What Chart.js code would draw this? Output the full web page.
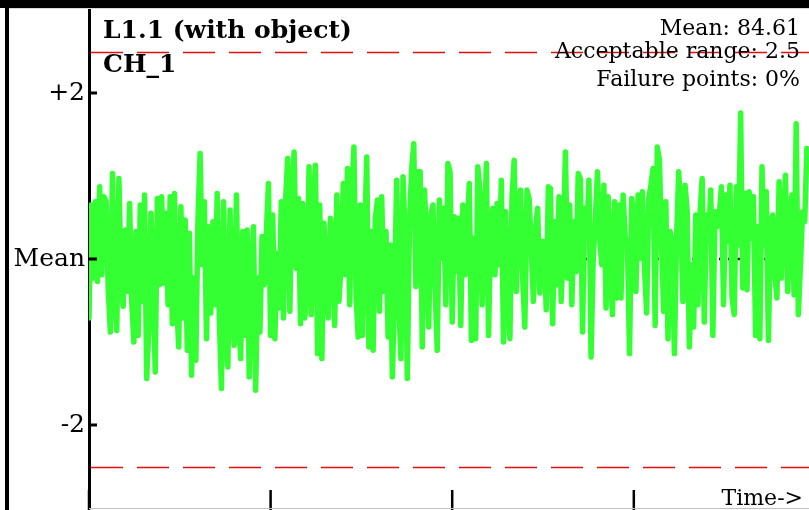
<!DOCTYPE html>
<html>
<head>
<meta charset="utf-8">
<script src="https://cdn.jsdelivr.net/npm/chart.js@4/dist/chart.umd.min.js"></script>
<style>
	html, body { margin: 0; padding: 0; background: #fff; overflow: hidden; }
	canvas { display: block; }
</style>
</head>
<body>
<canvas id="chartCanvas" width="809" height="510"></canvas>
<script>
// Values, in units of deviation from the mean
var values = [
	-0.71, 0.65, -0.23, 0.69, -0.27, 0.87, -0.19, 0.75, 0.69, -0.37,
	-0.88, 1.03, -0.35, -0.86, 0.97, -0.19, -0.57, 0.35, -0.39, 0.67,
	-0.51, -1.00, 0.33, -0.92, 0.65, -0.51, 0.77, -1.44, -0.84, 0.55,
	-0.23, -1.36, 0.73, -0.31, 0.75, -0.29, 0.55, -0.55, 0.75, -0.78,
	0.79, -0.51, -1.06, 0.63, -0.71, 0.47, -1.10, 0.31, -1.40, -0.23,
	-1.22, 0.47, 1.27, -0.07, 0.69, -0.96, 0.39, -0.65, 0.45, -0.55,

	0.79, -0.71, -1.56, 0.69, -0.96, -1.30, 0.59, -0.55, -1.04, 0.77,
	-0.63, -1.20, 0.33, -0.92, 0.35, -1.42, -0.23, 0.39, -1.58, -0.23,
	-0.88, 0.27, -0.31, 0.31, 0.91, -0.92, 0.53, -0.96, 0.07, -0.59,
	0.69, -0.71, 0.71, 1.21, -0.63, 0.77, 1.29, -0.11, 0.73, -0.78,
	0.67, -0.71, -0.37, 1.11, -0.67, 0.69, 1.13, -1.14, 0.65, -1.20,
	0.43, -0.23, -0.71, 0.49, 0.27, -0.80, 0.77, -0.51, -0.07, 0.91,
	-0.19, 1.09, -0.55, 0.79, 1.35, -0.45, -0.94, 0.65,

	-0.92, 0.25, 1.23, -1.06, 0.33, -1.10, 0.49, 0.71, -0.63,
	0.75, -0.39, 0.33, -0.94, 0.17, -1.42, -0.39, 0.95, -0.55, -1.20,
	0.99, 0.25, -1.44, 0.41, 1.07, 1.39, -0.33, 1.05, 1.05, -1.06,
	0.83, 0.27, -0.82, 0.53, 0.65, -0.35, -1.10, 0.71, 0.01, 0.61,
	-0.55, 1.15, 1.05, -0.76, 0.51, -0.15, 0.49, -0.80, 0.65, -0.19,
	0.33, 0.91, -0.98, 0.25, -0.96, 1.11, 0.81, -0.55, 0.25, 1.15,
	-0.92, 0.31, 0.61, -0.19, 0.67, -0.07, 0.95, -1.00, 0.57,

	-0.55, -0.96, 0.75, 1.19, -0.39, 0.69, 0.83, -0.23, -0.82,
	0.83, 0.73, 0.13, -0.51, 0.37, 0.61, -0.41, 0.21, 0.21, -0.61,
	0.87, 0.85, -0.78, 0.45, -0.31, 0.75, -0.51, 0.17, 1.29, -0.23,
	0.65, -0.55, 0.45, -0.15, 1.03, 0.97, -0.88, 0.61, 0.29, 0.95,
	-1.18, 0.01, 0.49, 1.05, 0.25, -0.07, 0.89, -0.59, 0.75, -0.03,
	-0.67, 0.69, -0.47, 0.65, -0.47, 0.77, 0.25, 0.21, -1.14, 0.73,
	0.49, -0.39, 0.77, 0.01, 0.81, -0.11, -0.65, 0.73, 0.89, 1.09,
	-0.80,

	1.35, 1.19, 0.17, -0.63, 0.69, -0.96, 0.33, 0.21, -1.14, 0.23,
	1.05, 0.57, -0.51, 0.89, 0.57, -1.06, -0.07, -0.82, 0.53, -0.55,
	0.55, 0.97, -0.76, 0.53, 0.21, 0.83, -0.92, 0.57, 0.39, 0.53,
	0.87, -0.55, 0.77, 0.21, 0.89, -0.47, -0.67, 0.87, 0.17, 1.76,
	-0.35, 0.79, -0.37, 0.81, 0.25, 0.75, -0.92, 0.39, -0.96, 1.11,
	0.17, 0.81, -0.98, 0.41, 0.53, -0.19, -0.47, 0.93, -0.23, 0.45,
	1.01, -0.39, 0.33, 0.77, -0.43, 1.63, -0.67, -0.07, 0.57, 0.45,
	1.33
];

var yTickValues = [-2, 0, 2];
var yTickLabels = ["-2", "Mean", "+2"];
var xTickValues = [0, 85, 170, 255];
var limitValues = [2.5, -2.5];
var titleLines = ["L1.1 (with object)", "CH_1"];
var infoLines = ["Mean: 84.61", "Acceptable range: 2.5", "Failure points: 0%"];
var xAxisLabel = "Time->";

var serif = "'DejaVu Serif', 'Liberation Serif', serif";

var points = values.map(function (v, i) { return {x: i, y: v}; });

var framePlugin = {
	id: "frame",
	beforeDatasetsDraw: function (chart) {
		var ctx = chart.ctx;
		var area = chart.chartArea;
		var yScale = chart.scales.y;
		// dotted mean line under the trace
		var ym = yScale.getPixelForValue(0);
		ctx.save();
		ctx.strokeStyle = "#000";
		ctx.lineWidth = 2.5;
		ctx.setLineDash([3, 6]);
		ctx.beginPath();
		ctx.moveTo(area.left, ym);
		ctx.lineTo(area.right, ym);
		ctx.stroke();
		ctx.restore();
	},
	afterDraw: function (chart) {
		var ctx = chart.ctx;
		var area = chart.chartArea;
		var xScale = chart.scales.x;
		var yScale = chart.scales.y;
		var W = chart.width, H = chart.height;
		ctx.save();

		// acceptable range limits
		ctx.strokeStyle = "#e01010";
		ctx.lineWidth = 1.5;
		ctx.setLineDash([32, 14]);
		limitValues.forEach(function (v) {
			var py = Math.round(yScale.getPixelForValue(v)) + 0.5;
			ctx.beginPath();
			ctx.moveTo(area.left + 2, py);
			ctx.lineTo(W, py);
			ctx.stroke();
		});
		ctx.setLineDash([]);

		// inward ticks on the y axis
		ctx.strokeStyle = "#000";
		ctx.lineWidth = 3;
		yTickValues.forEach(function (v) {
			var py = yScale.getPixelForValue(v);
			ctx.beginPath();
			ctx.moveTo(area.left, py);
			ctx.lineTo(area.left + 8, py);
			ctx.stroke();
		});

		// upward ticks on the time axis
		ctx.lineWidth = 2.5;
		xTickValues.forEach(function (v) {
			var px = xScale.getPixelForValue(v);
			ctx.beginPath();
			ctx.moveTo(px, H);
			ctx.lineTo(px, H - 20);
			ctx.stroke();
		});

		// frame
		ctx.fillStyle = "#000";
		ctx.fillRect(0, 0, W, 8);
		ctx.fillRect(5, 0, 4, H);
		ctx.fillStyle = "#d8d8d8";
		ctx.fillRect(9, 8, W - 9, 1);
		ctx.fillStyle = "#c0c0c0";
		ctx.fillRect(area.left, H - 2, W - area.left, 1);

		// title
		ctx.fillStyle = "#000";
		ctx.textAlign = "left";
		ctx.textBaseline = "alphabetic";
		ctx.font = "bold 25px " + serif;
		ctx.fillText(titleLines[0], 103, 38);
		ctx.fillText(titleLines[1], 103, 72);

		// summary text
		ctx.textAlign = "right";
		ctx.font = "22px " + serif;
		ctx.fillText(infoLines[0], 800, 35);
		ctx.fillText(infoLines[1], 800, 58);
		ctx.fillText(infoLines[2], 800, 86);

		ctx.font = "22px " + serif;
		ctx.fillText(xAxisLabel, 803, 505);
		ctx.restore();
	}
};

var chartCtx = document.getElementById("chartCanvas").getContext("2d");
var chart = new Chart(chartCtx, {
	type: "line",
	data: {
		datasets: [{
			data: points,
			borderColor: "#33ff33",
			borderWidth: 5.5,
			borderJoinStyle: "round",
			borderCapStyle: "round",
			pointRadius: 0,
			tension: 0,
			fill: false
		}]
	},
	options: {
		responsive: false,
		animation: false,
		devicePixelRatio: 1,
		layout: { padding: { top: 10, right: 0, bottom: 2, left: 0 } },
		plugins: { legend: { display: false }, tooltip: { enabled: false } },
		scales: {
			x: {
				type: "linear",
				min: 0,
				max: 337,
				display: false
			},
			y: {
				min: -3,
				max: 3,
				afterBuildTicks: function (scale) {
					scale.ticks = yTickValues.map(function (v) { return {value: v}; });
				},
				afterFit: function (scale) {
					scale.width = 89;
					scale.paddingTop = 0;
					scale.paddingBottom = 0;
				},
				grid: { display: false, drawTicks: false },
				border: { display: true, color: "#000", width: 3 },
				ticks: {
					color: "#000",
					padding: 4,
					font: { family: serif, size: 25 },
					callback: function (v) {
						return yTickLabels[yTickValues.indexOf(v)];
					}
				}
			}
		}
	},
	plugins: [framePlugin]
});
</script>
</body>
</html>
